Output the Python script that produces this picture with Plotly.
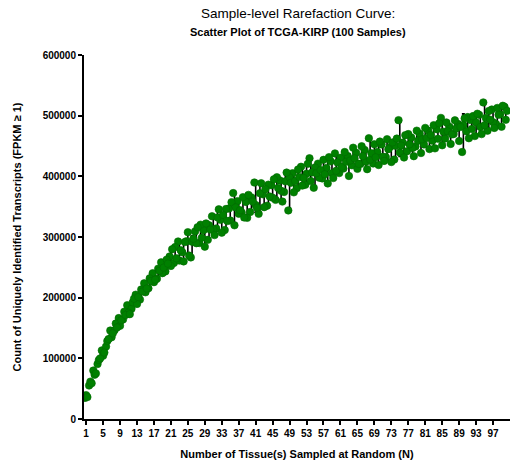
import numpy as np
import plotly.graph_objects as go

# Number of tissues sampled (N) and unique transcript counts for three random draws
n_sampled = list(range(1, 101))

draw_a = [34800, 55200, 79800, 90600, 113100, 119300, 145800, 146200, 166300, 164100,
          187600, 181700, 204900, 196800, 223700, 215400, 240300, 231100, 258200, 243300,
          267900, 257200, 292600, 274700, 293200, 266400, 309200, 290100, 311200, 295300,
          334200, 314100, 328300, 311400, 347100, 372400, 359100, 340400, 357800, 341200,
          389800, 338200, 370400, 351600, 385400, 361200, 393300, 374200, 343800, 405100,
          380400, 415800, 386100, 429800, 381200, 420900, 396600, 413800, 424700, 437800,
          405300, 412800, 433400, 418200, 438900, 420400, 443600, 462800, 421200, 440200,
          452600, 431700, 448300, 427600, 492600, 455700, 441300, 464100, 449300, 470200,
          452600, 475400, 458800, 477700, 496300, 462300, 481600, 469700, 486100, 440100,
          474300, 492700, 466400, 501400, 521800, 475300, 510100, 486200, 502400, 514600]

draw_b = [39300, 61600, 72900, 97200, 104200, 128600, 134700, 157400, 153600, 176900,
          175200, 192400, 189600, 213400, 208900, 231800, 225600, 247800, 240400, 262700,
          252300, 283400, 261100, 259800, 307900, 292300, 289800, 320300, 284100, 319400,
          312400, 332300, 307200, 346200, 327200, 319300, 338300, 365700, 331600, 365300,
          352700, 372100, 349200, 386300, 364800, 398500, 376100, 391700, 398400, 373600,
          411300, 384700, 404200, 392300, 414600, 397800, 427200, 388300, 405200, 409100,
          430500, 440100, 400600, 447200, 412300, 449600, 424100, 427400, 452800, 418700,
          432100, 461200, 423600, 450400, 439200, 431100, 469600, 446700, 475300, 438400,
          479800, 444900, 484300, 462100, 451200, 488800, 453400, 492300, 458200, 484700,
          497600, 478100, 488900, 481300, 484200, 507600, 489300, 512700, 481800, 493200]

draw_c = [36100, 58900, 75200, 99800, 109500, 131700, 141200, 150900, 162800, 171500,
          172800, 198300, 201100, 210200, 215100, 227600, 229700, 244300, 249600, 256100,
          279800, 264800, 278300, 291600, 269300, 297100, 316100, 298700, 322400, 312200,
          303100, 345600, 336400, 326300, 357400, 348800, 344200, 332200, 369400, 358400,
          348300, 388600, 378900, 366700, 395100, 380600, 358400, 406200, 389300, 392200,
          398700, 397300, 420600, 406400, 405100, 410300, 403400, 431600, 397100, 422600,
          415600, 423900, 426100, 429700, 420600, 433200, 411800, 438100, 431300, 457300,
          425400, 444800, 455900, 462200, 450800, 467900, 452800, 433200, 458600, 461100,
          463300, 468200, 446100, 487400, 473600, 474100, 469200, 478800, 481400, 495600,
          462800, 499300, 503200, 469600, 496100, 493400, 479800, 501600, 516300, 507900]

x_ticks = list(range(1, 101, 4))

FONT = "Liberation Sans, Arial, sans-serif"
GREEN = "#008000"

draws = np.array([draw_a, draw_b, draw_c], dtype=float)
mean_vals = draws.mean(axis=0)
sd_vals = draws.std(axis=0, ddof=1)

fig = go.Figure()

# mean +/- SD bars drawn underneath the points
fig.add_trace(go.Scatter(
    x=n_sampled, y=mean_vals, mode="markers",
    marker=dict(size=1, color="rgba(0,0,0,0)"),
    error_y=dict(type="data", array=sd_vals, visible=True,
                 color="black", thickness=1.6, width=1.5),
    showlegend=False, hoverinfo="skip",
))

# individual draws, spread slightly sideways within each N
for vals, dx in zip([draw_a, draw_b, draw_c], [-0.3, 0.0, 0.3]):
    fig.add_trace(go.Scatter(
        x=[n + dx for n in n_sampled], y=vals, mode="markers",
        marker=dict(size=7.5, color=GREEN, line=dict(width=0.6, color="#006a00")),
        showlegend=False,
    ))

axis_common = dict(
    showline=True, linecolor="black", linewidth=2,
    ticks="outside", ticklen=4, tickwidth=2, tickcolor="black",
    showgrid=False, zeroline=False,
    tickfont=dict(family=FONT, size=10, color="black", weight="bold"),
)

fig.update_xaxes(
    range=[0.5, 101.0], tickmode="array", tickvals=x_ticks,
    ticktext=[str(t) for t in x_ticks],
    title=dict(text="Number of Tissue(s) Sampled at Random (N)",
               font=dict(family=FONT, size=11, color="black", weight="bold"),
               standoff=12),
    **axis_common,
)
fig.update_yaxes(
    range=[0, 600000], tickmode="array",
    tickvals=[0, 100000, 200000, 300000, 400000, 500000, 600000],
    ticktext=["0", "100000", "200000", "300000", "400000", "500000", "600000"],
    title=dict(text="Count of Uniquely Identified Transcripts (FPKM \u2265 1)",
               font=dict(family=FONT, size=11, color="black", weight="bold"),
               standoff=19),
    **axis_common,
)

fig.add_annotation(text="Sample-level Rarefaction Curve:", x=298, y=462 - 14,
                   xref="paper", yref="paper", showarrow=False,
                   font=dict(family=FONT, size=13.5, color="black"))
fig.add_annotation(text="<b>Scatter Plot of TCGA-KIRP (100 Samples)</b>",
                   x=298, y=462 - 32, xref="paper", yref="paper", showarrow=False,
                   font=dict(family=FONT, size=11, color="black"))

fig.update_layout(
    width=510, height=462,
    margin=dict(l=84, r=0, t=55, b=43),
    plot_bgcolor="white", paper_bgcolor="white",
    font=dict(family=FONT, color="black"),
)

# title annotations are placed in pixel terms: convert to paper coordinates
plot_w = 510 - 84
plot_h = 462 - 55 - 43
for ann in fig.layout.annotations:
    ann.x = (ann.x - 84) / plot_w
    ann.y = (ann.y - 43) / plot_h
    ann.xanchor = "center"
    ann.yanchor = "middle"

fig.write_html("out.html")
